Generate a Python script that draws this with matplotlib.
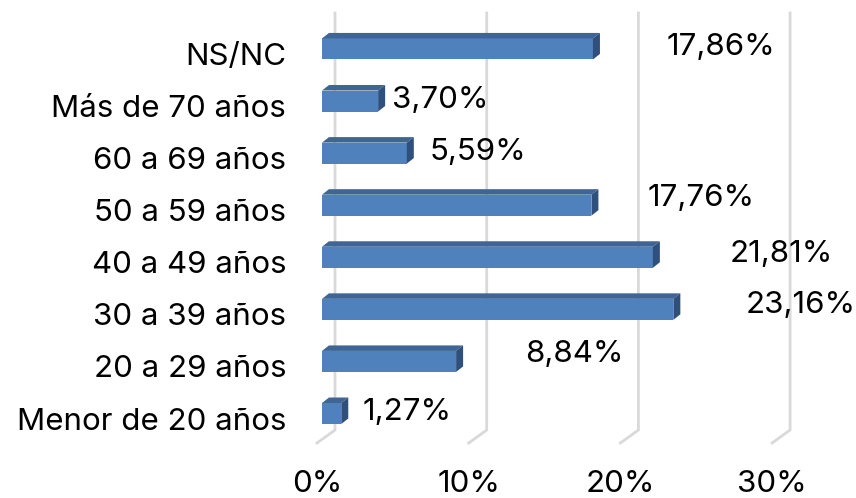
import matplotlib
matplotlib.use("Agg")
import matplotlib.pyplot as plt
from matplotlib.patches import Polygon
from matplotlib.transforms import ScaledTranslation

categories = ["Menor de 20 años", "20 a 29 años", "30 a 39 años", "40 a 49 años",
              "50 a 59 años", "60 a 69 años", "Más de 70 años", "NS/NC"]
values = [1.27, 8.84, 23.16, 21.81, 17.76, 5.59, 3.70, 17.86]
value_labels = ["1,27%", "8,84%", "23,16%", "21,81%", "17,76%", "5,59%", "3,70%", "17,86%"]
x_ticks = [0, 10, 20, 30]
x_tick_labels = ["0%", "10%", "20%", "30%"]

# label placement (pixel offsets from bar end), layout only
label_dx = [21, 69, 72, 77, 56, 23, 14, 74]
label_dy = [2, 7, 4, 3, 7, 1, 1, 2]

FONT = "Inter"
FS = 22.5

W, H, DPI = 856, 498, 100
fig = plt.figure(figsize=(W / DPI, H / DPI), dpi=DPI)
# axes box in pixels
ax_l, ax_r, ax_t, ax_b = 300, 856, 0, 455
ax = fig.add_axes([ax_l / W, (H - ax_b) / H, (ax_r - ax_l) / W, (ax_b - ax_t) / H])

px_per_pct = 15.17
x0_px = 322
px_per_cat = 52.08
y0_px = 413.5
ax.set_xlim((ax_l - x0_px) / px_per_pct, (ax_r - x0_px) / px_per_pct)
ax.set_ylim((y0_px - ax_b) / px_per_cat, (y0_px - ax_t) / px_per_cat)

# 3D geometry (in data units)
depth_dx = 7 / px_per_pct
depth_dy = 5.5 / px_per_cat
bar_h = 21 / px_per_cat
wall_dx = 13 / px_per_pct
floor_front_dx = -5 / px_per_pct
grid_top = (y0_px - 13) / px_per_cat
grid_back_bottom = (y0_px - 430) / px_per_cat
grid_front = (y0_px - 443) / px_per_cat

grid_col = "#D9D9D9"
for t in x_ticks:
    ax.plot([t + wall_dx, t + wall_dx, t + floor_front_dx],
            [grid_top, grid_back_bottom, grid_front],
            color=grid_col, lw=2.0, solid_joinstyle="miter", zorder=1)

front_col = "#4F81BD"
top_col = "#3F6595"
side_col = "#2F4F7C"
for i, v in enumerate(values):
    y_lo = i - bar_h / 2
    y_hi = i + bar_h / 2
    front = Polygon([(0, y_lo), (v, y_lo), (v, y_hi), (0, y_hi)], closed=True,
                    facecolor=front_col, edgecolor="none", zorder=3)
    top = Polygon([(0, y_hi), (v, y_hi), (v + depth_dx, y_hi + depth_dy),
                   (depth_dx, y_hi + depth_dy)], closed=True,
                  facecolor=top_col, edgecolor="none", zorder=3)
    side = Polygon([(v, y_lo), (v + depth_dx, y_lo + depth_dy),
                    (v + depth_dx, y_hi + depth_dy), (v, y_hi)], closed=True,
                   facecolor=side_col, edgecolor="none", zorder=3)
    for p in (front, top, side):
        ax.add_patch(p)
    ax.annotate(value_labels[i], xy=(v, i), xytext=(label_dx[i] * 0.72, label_dy[i] * 0.72),
                textcoords="offset points", ha="left", va="center",
                fontsize=FS, family=FONT, color="#000000", zorder=4)

ax.set_yticks(range(len(categories)))
ax.set_yticklabels(categories, fontsize=FS, family=FONT)
ax.set_xticks([t + floor_front_dx for t in x_ticks])
ax.set_xticklabels(x_tick_labels, fontsize=FS, family=FONT)
ax.tick_params(axis="both", length=0)
ax.tick_params(axis="y", pad=10)
ax.tick_params(axis="x", pad=11)
shift = ScaledTranslation(0, -5 / DPI, fig.dpi_scale_trans)
for lab in ax.get_yticklabels():
    lab.set_transform(lab.get_transform() + shift)
for s in ax.spines.values():
    s.set_visible(False)
ax.set_facecolor("white")
fig.patch.set_facecolor("white")

fig.savefig("out.png", dpi=DPI, facecolor="white")
